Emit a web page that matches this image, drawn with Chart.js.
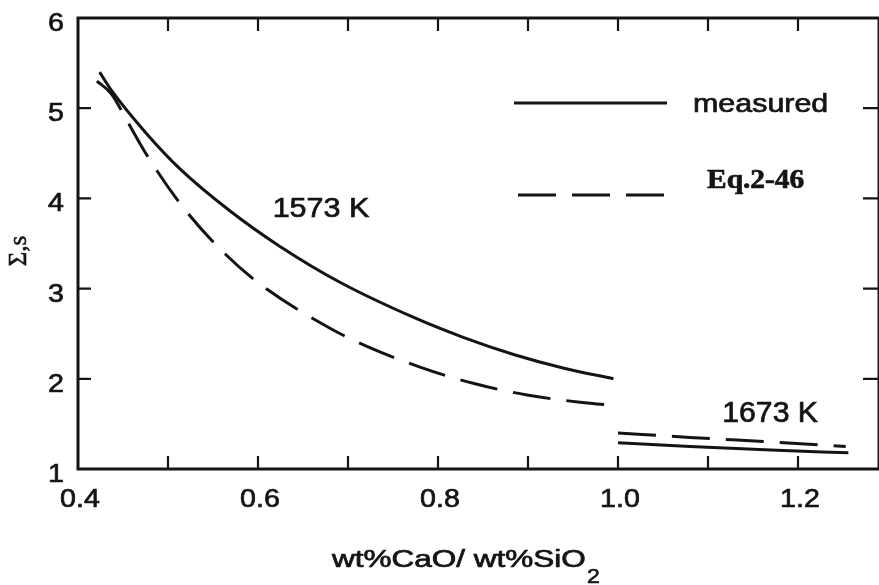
<!DOCTYPE html>
<html>
<head>
<meta charset="utf-8">
<title>Relaxation time vs basicity</title>
<script src="https://cdn.jsdelivr.net/npm/chart.js@4.4.1/dist/chart.umd.min.js"></script>
<style>
  html, body { margin: 0; padding: 0; background: #fff; }
  #wrap { width: 879px; height: 585px; position: relative; }
</style>
</head>
<body>
<div id="wrap"><canvas id="sigma_chart"></canvas></div>
<script>
// 1573 K, measured
const basicity1573Measured = [0.424, 0.437, 0.476, 0.513, 0.569, 0.624, 0.691, 0.773, 0.828, 0.884, 0.939, 0.995];
const sigma1573Measured    = [5.40, 5.20, 4.72, 4.33, 3.86, 3.47, 3.07, 2.68, 2.46, 2.27, 2.12, 2.00];

// 1573 K, Eq.2-46
const basicity1573Eq = [0.421, 0.437, 0.454, 0.474, 0.510, 0.550, 0.597, 0.680, 0.721, 0.780, 0.839, 0.899, 0.958, 1.000];
const sigma1573Eq    = [5.30, 5.16, 4.87, 4.52, 3.99, 3.52, 3.09, 2.56, 2.36, 2.13, 1.95, 1.82, 1.74, 1.70];

// 1673 K
const basicity1673Measured = [1.000, 1.080, 1.170, 1.256];
const sigma1673Measured    = [1.29, 1.25, 1.21, 1.18];
const basicity1673Eq       = [1.000, 1.080, 1.170, 1.253];
const sigma1673Eq          = [1.40, 1.35, 1.30, 1.25];

// axes
const xTicks       = [0.5, 0.6, 0.7, 0.8, 0.9, 1.0, 1.1, 1.2];
const xLabelValues = [0.4, 0.6, 0.8, 1.0, 1.2];
const xLabels      = ['0.4', '0.6', '0.8', '1.0', '1.2'];
const yTicks       = [2, 3, 4, 5];
const yLabelValues = [1, 2, 3, 4, 5, 6];
const yLabels      = ['1', '2', '3', '4', '5', '6'];

const INK   = '#141414';
const SANS  = '"Liberation Sans", Arial, Helvetica, sans-serif';
const SERIF = '"Liberation Serif", "Times New Roman", serif';
const DASH  = [38, 16];

function pts(xs, ys) {
    return xs.map((x, i) => ({ x: x, y: ys[i] }));
}

// wide, slightly heavy lettering
function wideText(ctx, text, x, y, size, sx, align, family, weight) {
    ctx.save();
    ctx.translate(x, y);
    ctx.scale(sx, 1);
    ctx.font = (weight || 'normal') + ' ' + size + 'px ' + (family || SANS);
    ctx.textAlign = align || 'left';
    ctx.textBaseline = 'alphabetic';
    ctx.fillStyle = INK;
    ctx.strokeStyle = INK;
    ctx.lineWidth = 0.7;
    ctx.fillText(text, 0, 0);
    ctx.strokeText(text, 0, 0);
    ctx.restore();
}

const framePlugin = {
    id: 'frame',
    afterDraw(chart) {
        const ctx = chart.ctx;
        const a = chart.chartArea;
        const xs = chart.scales.x, ys = chart.scales.y;

        ctx.save();
        ctx.strokeStyle = INK;
        ctx.lineWidth = 3;
        ctx.strokeRect(a.left, a.top, a.right - a.left, a.bottom - a.top);

        // inward ticks on all four sides
        ctx.lineWidth = 2.2;
        ctx.beginPath();
        xTicks.forEach(v => {
            const px = xs.getPixelForValue(v);
            ctx.moveTo(px, a.bottom); ctx.lineTo(px, a.bottom - 13);
            ctx.moveTo(px, a.top);    ctx.lineTo(px, a.top + 13);
        });
        yTicks.forEach(v => {
            const py = ys.getPixelForValue(v);
            ctx.moveTo(a.left, py);  ctx.lineTo(a.left + 13, py);
            ctx.moveTo(a.right, py); ctx.lineTo(a.right - 16, py);
        });
        ctx.stroke();

        // tick labels
        xLabelValues.forEach((v, i) => {
            wideText(ctx, xLabels[i], xs.getPixelForValue(v) + 2, a.bottom + 38, 26, 1.1, 'center');
        });
        yLabelValues.forEach((v, i) => {
            wideText(ctx, yLabels[i], a.left - 14, ys.getPixelForValue(v) + 13, 26, 1.1, 'right');
        });

        // axis titles
        wideText(ctx, 'wt%CaO/ wt%SiO', 332, 567, 23, 1.37, 'left');
        wideText(ctx, '2', 587, 583, 21, 1.1, 'left');

        ctx.save();
        ctx.translate(26, 251);
        ctx.rotate(-Math.PI / 2);
        ctx.font = '25px ' + SERIF;
        ctx.textAlign = 'center';
        ctx.fillStyle = INK;
        ctx.strokeStyle = INK;
        ctx.lineWidth = 0.6;
        ctx.fillText('\u03A3,s', 0, 0);
        ctx.strokeText('\u03A3,s', 0, 0);
        ctx.restore();

        // curve labels
        wideText(ctx, '1573 K', xs.getPixelForValue(0.67), ys.getPixelForValue(3.91) + 10, 28, 1.09, 'center');
        wideText(ctx, '1673 K', xs.getPixelForValue(1.169), ys.getPixelForValue(1.643) + 11, 29, 1.04, 'center');

        // legend
        ctx.lineWidth = 3;
        ctx.beginPath();
        ctx.moveTo(514, 103); ctx.lineTo(667, 103);
        ctx.stroke();
        ctx.setLineDash(DASH);
        ctx.beginPath();
        ctx.moveTo(518, 195); ctx.lineTo(668, 195);
        ctx.stroke();
        ctx.setLineDash([]);
        wideText(ctx, 'measured', 693, 112, 26, 1.17, 'left');
        wideText(ctx, 'Eq.2-46', 707, 188, 27, 1.09, 'left', SERIF, 'bold');
        ctx.restore();
    }
};

function lineSet(xs, ys, dashed) {
    return {
        data: pts(xs, ys),
        borderColor: INK,
        borderWidth: 3,
        borderDash: dashed ? DASH : [],
        pointRadius: 0,
        fill: false,
        cubicInterpolationMode: 'monotone'
    };
}

const config = {
    type: 'line',
    data: {
        datasets: [
            lineSet(basicity1573Measured, sigma1573Measured, false),
            lineSet(basicity1573Eq, sigma1573Eq, true),
            lineSet(basicity1673Measured, sigma1673Measured, false),
            lineSet(basicity1673Eq, sigma1673Eq, true)
        ]
    },
    options: {
        animation: false,
        responsive: true,
        maintainAspectRatio: false,
        layout: { padding: { top: 18, right: 0, left: 0, bottom: 0 } },
        plugins: {
            legend: { display: false },
            tooltip: { enabled: false }
        },
        scales: {
            x: {
                type: 'linear',
                min: 0.4,
                max: 1.29,
                grid: { display: false },
                border: { display: false },
                ticks: { display: false },
                afterFit: s => { s.height = 116; }
            },
            y: {
                type: 'linear',
                min: 1,
                max: 6,
                grid: { display: false },
                border: { display: false },
                ticks: { display: false },
                afterFit: s => { s.width = 78; }
            }
        }
    },
    plugins: [framePlugin]
};

const chart = new Chart(document.getElementById('sigma_chart'), config);
</script>
</body>
</html>
